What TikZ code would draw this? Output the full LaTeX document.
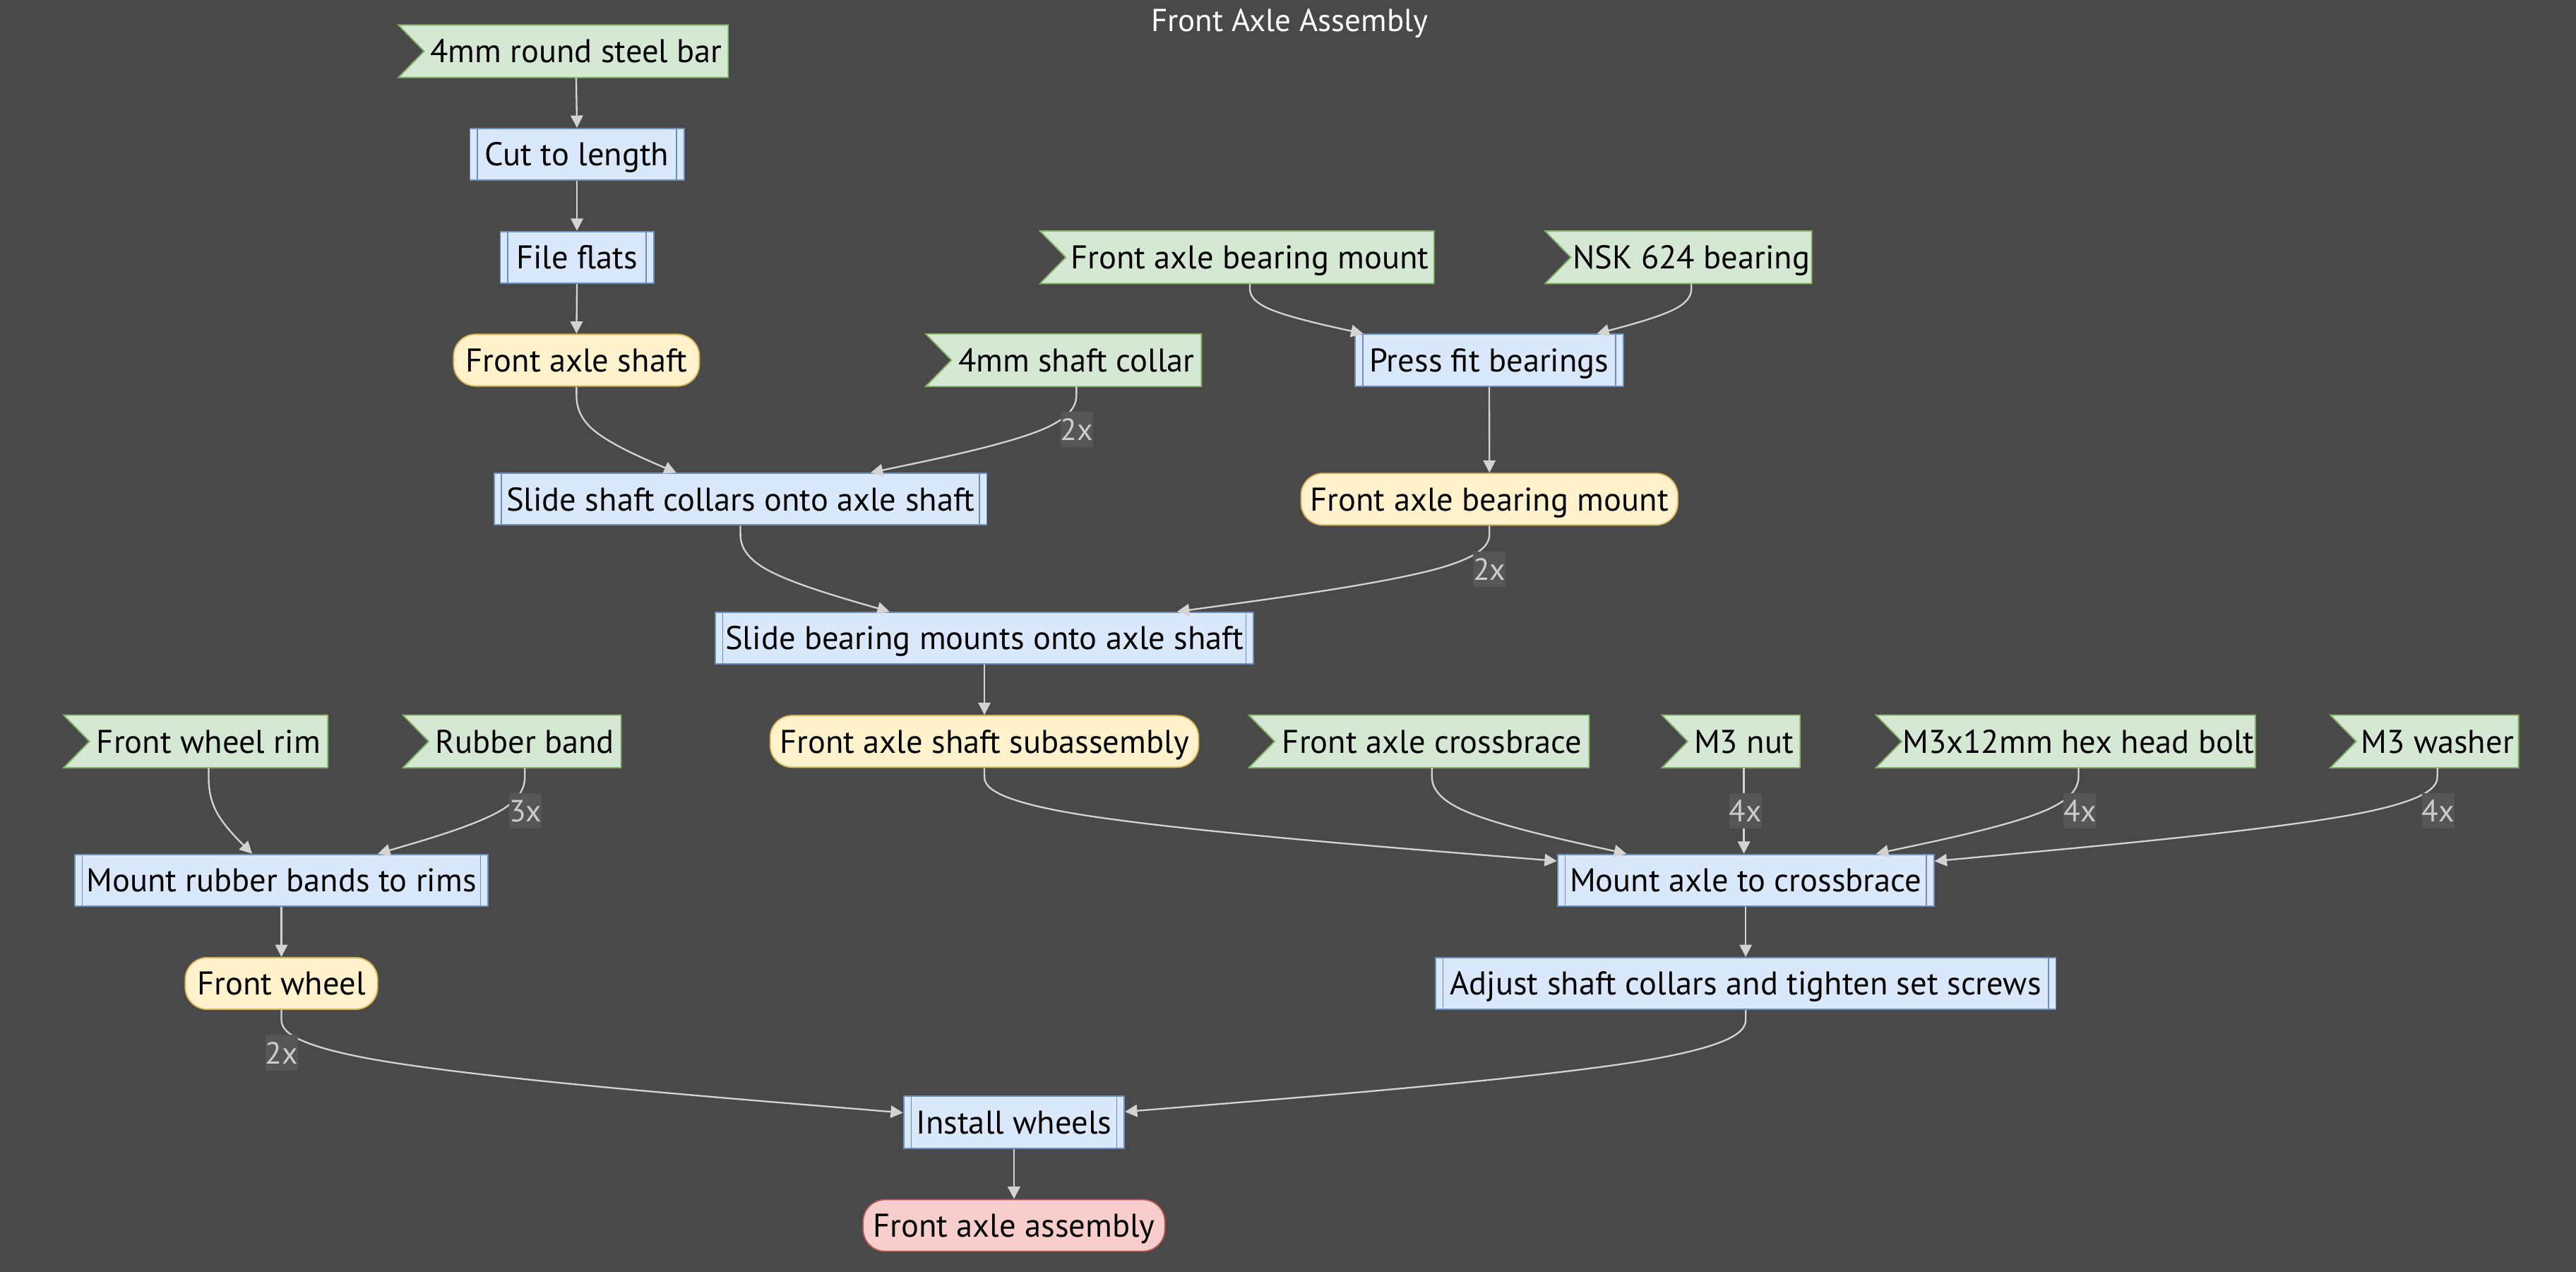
\documentclass[tikz,border=0pt]{standalone}
\usepackage{fontspec}
\setmainfont{PT Sans}
\usetikzlibrary{arrows.meta,calc,backgrounds}

\definecolor{canvas}{RGB}{72,73,72}
\definecolor{rawfill}{HTML}{D5E8D4}
\definecolor{rawline}{HTML}{82B366}
\definecolor{procfill}{HTML}{DAE8FC}
\definecolor{procline}{HTML}{6C8EBF}
\definecolor{partfill}{HTML}{FFF2CC}
\definecolor{partline}{HTML}{D6B656}
\definecolor{endfill}{HTML}{F8CECC}
\definecolor{endline}{HTML}{B85450}
\definecolor{wire}{HTML}{D3D3D3}
\definecolor{qtyfill}{RGB}{86,86,86}
\definecolor{qtytext}{HTML}{CCCCCC}

\tikzset{
  nodebase/.style={minimum height=23.6pt, inner sep=0pt, text height=13pt, text depth=2.5pt,
    text=black, font=\fontsize{15}{17}\selectfont},
  rawbox/.style={nodebase},
  stepbox/.style={nodebase, draw=procline, fill=procfill, line width=0.6pt,
    path picture={\draw[procline, line width=0.45pt]
      ([xshift=3.4pt]path picture bounding box.north west) -- ([xshift=3.4pt]path picture bounding box.south west)
      ([xshift=-3.4pt]path picture bounding box.north east) -- ([xshift=-3.4pt]path picture bounding box.south east);}},
  partbox/.style={nodebase, draw=partline, fill=partfill, line width=0.6pt, rounded corners=10pt},
  finalbox/.style={nodebase, draw=endline, fill=endfill, line width=0.6pt, rounded corners=10pt},
  qty/.style={fill=qtyfill, text=qtytext, inner sep=0pt, minimum width=14.5pt, minimum height=16.2pt, font=\fontsize{14}{16}\selectfont},
  wireline/.style={draw=wire, line width=0.75pt, -{Triangle[length=5.6pt,width=5.6pt]}},
  basis/.style={to path={
    let \p1=(\tikztostart), \p3=(\tikztotarget), \p2=(\x1,{0.5*(\y1+\y3)}) in
    -- ({(5*\x1+\x2)/6},{(5*\y1+\y2)/6})
    .. controls ({(2*\x1+\x2)/3},{(2*\y1+\y2)/3}) and ({(\x1+2*\x2)/3},{(\y1+2*\y2)/3})
    .. ({(\x1+4*\x2+\x3)/6},{(\y1+4*\y2+\y3)/6})
    .. controls ({(2*\x2+\x3)/3},{(2*\y2+\y3)/3}) and ({(\x2+2*\x3)/3},{(\y2+2*\y3)/3})
    .. ({(\x2+5*\x3)/6},{(\y2+5*\y3)/6})
    -- (\tikztotarget)}}
}

\begin{document}
\begin{tikzpicture}[x=0.75pt,y=0.75pt,yscale=-1,xscale=1]
\useasboundingbox (0,0) rectangle (1568,774);
\begin{scope}[on background layer]
\fill[canvas] (0,0) rectangle (1568,774);
\end{scope}

\node[text=white, font=\fontsize{14.5}{17}\selectfont, anchor=base, inner sep=0pt] (title) at (785,19) {Front Axle Assembly};

% raw parts
\node[rawbox, minimum width=138.4pt] (bar) at (350.7,31.2) {4mm round steel bar};
\node[rawbox, minimum width=167.7pt] (brgin) at (760.8,156.6) {Front axle bearing mount};
\node[rawbox, minimum width=109.6pt] (nsk) at (1029.5,156.6) {NSK 624 bearing};
\node[rawbox, minimum width=113.7pt] (collar) at (655.2,219.2) {4mm shaft collar};
\node[rawbox, minimum width=108.4pt] (rim) at (127,451.2) {Front wheel rim};
\node[rawbox, minimum width=87.4pt] (band) at (319.5,451.2) {Rubber band};
\node[rawbox, minimum width=143.2pt] (brace) at (871.6,451.2) {Front axle crossbrace};
\node[rawbox, minimum width=50.9pt] (nut) at (1061.5,451.2) {M3 nut};
\node[rawbox, minimum width=161pt] (bolt) at (1265.2,451.2) {M3x12mm hex head bolt};
\node[rawbox, minimum width=73.7pt] (washer) at (1483.6,451.2) {M3 washer};

% steps
\node[stepbox, minimum width=97.7pt] (cut) at (351.2,93.9) {Cut to length};
\node[stepbox, minimum width=70pt] (flats) at (351.2,156.6) {File flats};
\node[stepbox, minimum width=122.3pt] (press) at (906.5,219.2) {Press fit bearings};
\node[stepbox, minimum width=225pt] (slide1) at (450.7,303.8) {Slide shaft collars onto axle shaft};
\node[stepbox, minimum width=245.7pt] (slide2) at (599.2,388.4) {Slide bearing mounts onto axle shaft};
\node[stepbox, minimum width=188.7pt] (mountbands) at (171.3,535.7) {Mount rubber bands to rims};
\node[stepbox, minimum width=171.8pt] (mountaxle) at (1062.6,535.7) {Mount axle to crossbrace};
\node[stepbox, minimum width=283.2pt] (adjust) at (1062.6,598.5) {Adjust shaft collars and tighten set screws};
\node[stepbox, minimum width=100.7pt] (install) at (617.2,683) {Install wheels};

% made parts
\node[partbox, minimum width=112.2pt] (shaft) at (350.9,219.2) {Front axle shaft};
\node[partbox, minimum width=172pt] (brgmount) at (906.6,303.8) {Front axle bearing mount};
\node[partbox, minimum width=195.6pt] (subasm) at (599.2,451.2) {Front axle shaft subassembly};
\node[partbox, minimum width=87.8pt] (wheel) at (171.3,598.5) {Front wheel};
\node[finalbox, minimum width=137.8pt] (assembly) at (617.2,745.8) {Front axle assembly};

% flag outlines behind the raw parts
\begin{scope}[on background layer]
\foreach \n in {bar,brgin,nsk,collar,rim,band,brace,nut,bolt,washer}
  \filldraw[draw=rawline, fill=rawfill, line width=0.6pt]
    ($(\n.north west)+(-15.7,0)$) -- (\n.north east) -- (\n.south east)
    -- ($(\n.south west)+(-15.7,0)$) -- (\n.west) -- cycle;
\end{scope}

% connectors
\draw[wireline] (bar.south) -- (cut.north);
\draw[wireline] (cut.south) -- (flats.north);
\draw[wireline] (flats.south) -- (shaft.north);
\draw[wireline] (shaft.south) to[basis] ($(slide1.north)+(-39,0)$);
\draw[wireline] (collar.south) to[basis] ($(slide1.north)+(79.2,0)$);
\draw[wireline] (brgin.south) to[basis] ($(press.north)+(-76.7,0)$);
\draw[wireline] (nsk.south) to[basis] ($(press.north)+(65.5,0)$);
\draw[wireline] (press.south) -- (brgmount.north);
\draw[wireline] (slide1.south) to[basis] ($(slide2.north)+(-57.7,0)$);
\draw[wireline] (brgmount.south) to[basis] ($(slide2.north)+(117.3,0)$);
\draw[wireline] (slide2.south) -- (subasm.north);
\draw[wireline] (rim.south) to[basis] ($(mountbands.north)+(-17.8,0)$);
\draw[wireline] (band.south) to[basis] ($(mountbands.north)+(58.7,0)$);
\draw[wireline] (subasm.south) to[basis] ($(mountaxle.west)+(0,-11.7)$);
\draw[wireline] (brace.south) to[basis] ($(mountaxle.north)+(-72.6,0)$);
\draw[wireline] (nut.south) -- (nut.south |- mountaxle.north);
\draw[wireline] (bolt.south) to[basis] ($(mountaxle.north)+(79.4,0)$);
\draw[wireline] (washer.south) to[basis] ($(mountaxle.east)+(0,-11.6)$);
\draw[wireline] (mountbands.south) -- (wheel.north);
\draw[wireline] (mountaxle.south) -- (adjust.north);
\draw[wireline] (wheel.south) to[basis] ($(install.west)+(0,-5.8)$);
\draw[wireline] (adjust.south) to[basis] ($(install.east)+(0,-6.4)$);
\draw[wireline] (install.south) -- (assembly.north);

% quantities
\node[qty] (qcollar) at (655.3,261.3) {2x};
\node[qty] (qbrg) at (906.6,346.3) {2x};
\node[qty] (qband) at (319.8,493.5) {3x};
\node[qty] (qnut) at (1062.5,493.5) {4x};
\node[qty] (qbolt) at (1266,493.5) {4x};
\node[qty] (qwasher) at (1484.1,493.5) {4x};
\node[qty] (qwheel) at (171.3,640.7) {2x};
\end{tikzpicture}
\end{document}
